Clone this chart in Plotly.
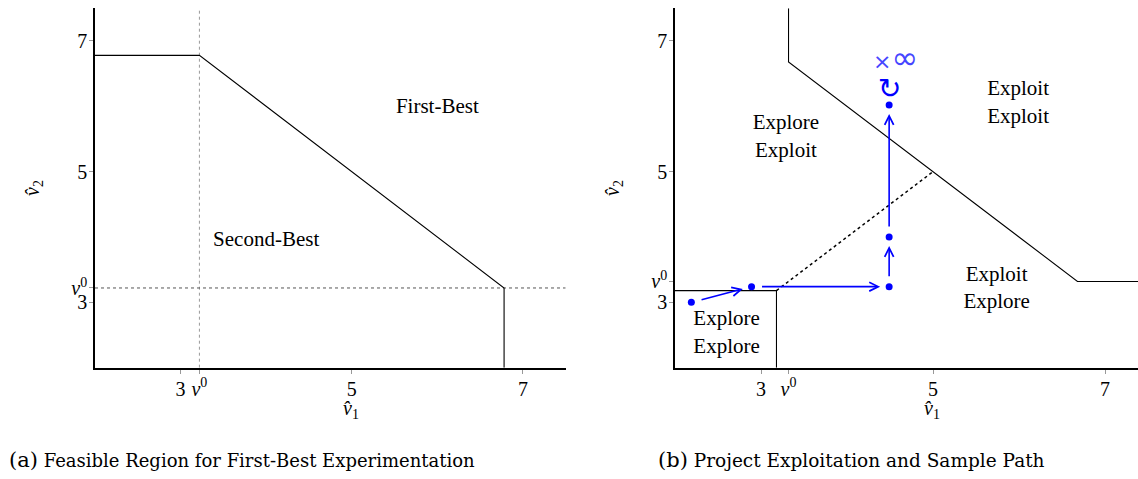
import plotly.graph_objects as go

# ---------------- data ----------------
# panel (a)
v0_a = 3.22
boundary_a_x = [2.0, 3.22, 6.78, 6.78]
boundary_a_y = [6.78, 6.78, 3.22, 2.0]
labels_a_text = ["First-Best", "Second-Best"]
labels_a_x = [6.0, 4.0]
labels_a_y = [5.98, 3.95]

# panel (b)
v0_b = 3.32
boundary_b_x = [3.32, 3.32, 6.68, 7.5]
boundary_b_y = [7.5, 6.68, 3.32, 3.32]
box_b_x = [2.0, 3.18, 3.18]
box_b_y = [3.18, 3.18, 2.0]
diag_b_x = [3.18, 5.0]
diag_b_y = [3.18, 5.0]
path_x = [2.19, 2.89, 4.49, 4.49, 4.49]
path_y = [3.00, 3.24, 3.24, 4.00, 6.02]
labels_b_text = ["Explore", "Exploit", "Exploit", "Exploit", "Exploit", "Explore", "Explore", "Explore"]
labels_b_x = [3.29, 3.29, 5.99, 5.99, 5.74, 5.74, 2.60, 2.60]
labels_b_y = [5.74, 5.30, 6.25, 5.82, 3.41, 2.99, 2.74, 2.30]

tick_vals_a = [3, v0_a, 5, 7]
tick_vals_b = [3, v0_b, 5, 7]
tick_text = ["3", "<i>v</i><sup>0</sup>", "5", "7"]

FONT = "Liberation Serif"
CAP_FONT = "DejaVu Serif"
W, H = 1138, 479

fig = go.Figure()

# ----- panel (a) -----
fig.add_trace(go.Scatter(x=[v0_a, v0_a], y=[2, 7.5], mode="lines",
                         line=dict(color="#999", width=1, dash="dot"),
                         xaxis="x", yaxis="y", showlegend=False))
fig.add_trace(go.Scatter(x=[2, 7.5], y=[v0_a, v0_a], mode="lines",
                         line=dict(color="#555", width=1, dash="dot"),
                         xaxis="x", yaxis="y", showlegend=False))
fig.add_trace(go.Scatter(x=boundary_a_x, y=boundary_a_y, mode="lines",
                         line=dict(color="black", width=1.1),
                         xaxis="x", yaxis="y", showlegend=False))
fig.add_trace(go.Scatter(x=labels_a_x, y=labels_a_y, mode="text", text=labels_a_text,
                         textfont=dict(family=FONT, size=21, color="black"),
                         xaxis="x", yaxis="y", showlegend=False))

# ----- panel (b) -----
fig.add_trace(go.Scatter(x=boundary_b_x, y=boundary_b_y, mode="lines",
                         line=dict(color="black", width=1.1),
                         xaxis="x2", yaxis="y2", showlegend=False))
fig.add_trace(go.Scatter(x=box_b_x, y=box_b_y, mode="lines",
                         line=dict(color="black", width=1.1),
                         xaxis="x2", yaxis="y2", showlegend=False))
fig.add_trace(go.Scatter(x=diag_b_x, y=diag_b_y, mode="lines",
                         line=dict(color="black", width=1.5, dash="dot"),
                         xaxis="x2", yaxis="y2", showlegend=False))
fig.add_trace(go.Scatter(x=path_x, y=path_y, mode="markers",
                         marker=dict(color="blue", size=7),
                         xaxis="x2", yaxis="y2", showlegend=False))
fig.add_trace(go.Scatter(x=labels_b_x, y=labels_b_y, mode="text", text=labels_b_text,
                         textfont=dict(family=FONT, size=21, color="black"),
                         xaxis="x2", yaxis="y2", showlegend=False))

annotations = []
for i in range(len(path_x) - 1):
    annotations.append(dict(
        x=path_x[i + 1], y=path_y[i + 1], ax=path_x[i], ay=path_y[i],
        xref="x2", yref="y2", axref="x2", ayref="y2",
        showarrow=True, arrowhead=5, arrowsize=1.1, arrowwidth=1.6,
        arrowcolor="blue", standoff=9, startstandoff=9, text=""))

# loop and x-infinity above last point
annotations.append(dict(x=path_x[-1], y=path_y[-1], xref="x2", yref="y2",
                        text="↻", showarrow=False, yshift=17, xanchor="center",
                        yanchor="middle",
                        font=dict(family="DejaVu Sans", size=28, color="blue")))
annotations.append(dict(x=path_x[-1], y=path_y[-1], xref="x2", yref="y2",
                        text="×<span style='font-size:32px'>∞</span>", showarrow=False,
                        yshift=47, xshift=6, xanchor="center", yanchor="middle",
                        font=dict(family="DejaVu Sans", size=22, color="#4646ff")))

# axis titles
axis_title_font = dict(family=FONT, size=20, color="black")
for xc in [351 / W, 932 / W]:
    annotations.append(dict(x=xc, y=(H - 409) / H, xref="paper", yref="paper",
                            xanchor="center", yanchor="middle",
                            text="<i>v̂</i><sub>1</sub>", showarrow=False,
                            font=axis_title_font))
for xc in [33 / W, 613 / W]:
    annotations.append(dict(x=xc, y=(H - 188) / H, xref="paper", yref="paper",
                            xanchor="center", yanchor="middle",
                            text="<i>v̂</i><sub>2</sub>", showarrow=False,
                            textangle=-90, font=axis_title_font))

# captions
cap_font = dict(family=CAP_FONT, size=18, color="black")
annotations.append(dict(x=241.5 / W, y=(H - 460) / H, xref="paper", yref="paper",
                        xanchor="center", yanchor="middle",
                        text="<span style='font-size:21px'>(a)</span> Feasible Region for First-Best Experimentation",
                        showarrow=False, font=cap_font))
annotations.append(dict(x=851 / W, y=(H - 460) / H, xref="paper", yref="paper",
                        xanchor="center", yanchor="middle",
                        text="<span style='font-size:21px'>(b)</span> Project Exploitation and Sample Path",
                        showarrow=False, font=dict(family=CAP_FONT, size=18.5, color="black")))

ydom = [(H - 367.7) / H, (H - 8.3) / H]
common_axis = dict(showline=True, linecolor="black", linewidth=1.6, showgrid=False,
                   zeroline=False, ticks="outside", ticklen=4, tickcolor="#999",
                   tickwidth=1, tickfont=dict(family=FONT, size=20, color="black"),
                   ticklabelstandoff=-2, mirror=False, fixedrange=True)

fig.update_layout(
    width=W, height=H,
    margin=dict(l=0, r=0, t=0, b=0),
    paper_bgcolor="white", plot_bgcolor="white",
    showlegend=False,
    xaxis=dict(domain=[95 / W, 565.7 / W], range=[2, 7.5], anchor="y",
               tickvals=tick_vals_a, ticktext=tick_text, **common_axis),
    yaxis=dict(domain=ydom, range=[2, 7.5], anchor="x",
               tickvals=tick_vals_a, ticktext=tick_text, **common_axis),
    xaxis2=dict(domain=[675 / W, 1.0], range=[2, 2 + 463 / 86], anchor="y2",
                tickvals=tick_vals_b, ticktext=tick_text, **common_axis),
    yaxis2=dict(domain=ydom, range=[2, 7.5], anchor="x2",
                tickvals=tick_vals_b, ticktext=tick_text, **common_axis),
    annotations=annotations,
)

fig.write_html("out.html", config={"displayModeBar": False},
               post_script="document.body.style.margin='0';document.body.style.overflow='hidden';")
